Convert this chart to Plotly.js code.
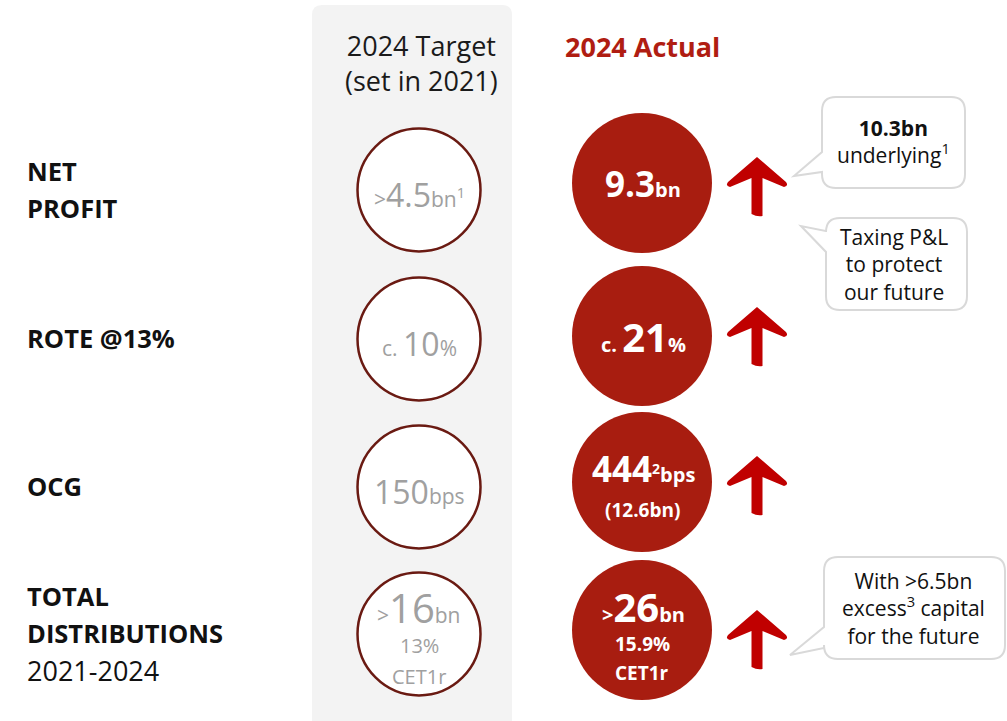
<!DOCTYPE html>
<html><head><meta charset="utf-8">
<script src="https://cdn.plot.ly/plotly-3.0.1.min.js"></script>
<style>body{margin:0;background:#fff}#chart{width:1007px;height:721px}</style>
</head><body><div id="chart"></div>
<script>
// ---- data ----
const metricTitle = [["NET", "PROFIT"], ["ROTE @13%"], ["OCG"], ["TOTAL", "DISTRIBUTIONS"]];
const metricSub = ["", "", "", "2021-2024"];
const columnHeads = ["2024 Target<br>(set in 2021)", "2024 Actual"];
const targetPrefix = [">", "c. ", "", ">"];
const targetValue = ["4.5", "10", "150", "16"];
const targetUnit = ["bn", "%", "bps", "bn"];
const targetNote = ["1", "", "", ""];
const targetExtra = [[], [], [], ["13%", "CET1r"]];
const actualPrefix = ["", "c. ", "", ">"];
const actualValue = ["9.3", "21", "444", "26"];
const actualUnit = ["bn", "%", "bps", "bn"];
const actualNote = ["", "", "2", ""];
const actualExtra = [[], [], ["(12.6bn)"], ["15.9%", "CET1r"]];
const calloutLines = [["<b>10.3bn</b>", "underlying<sup>1</sup>"], ["Taxing P&L", "to protect", "our future"], ["With >6.5bn", "excess<sup>3</sup> capital", "for the future"]];

// ---- layout constants ----
const FONT = "Open Sans, Noto Sans, sans-serif";
const RED = "#a81d10", ARROW = "#c00000", GREY = "#a0a0a0";
const rowY = [190, 339, 487, 634];
const actY = [183, 336, 482, 630];
const tX = 419, aX = 642;

const shapes = [];
const ann = [];

// grey target column with rounded top
(function(){
  const x0=312,x1=512,y0=5,y1=721,r=10;
  shapes.push({type:"path",layer:"below",line:{width:0},fillcolor:"#f3f3f3",
    path:`M${x0},${y1} V${y0+r} Q${x0},${y0} ${x0+r},${y0} H${x1-r} Q${x1},${y0} ${x1},${y0+r} V${y1} Z`,xref:"x",yref:"y"});
})();

// headers
ann.push({x:tX+2,y:63,text:columnHeads[0],font:{family:FONT,size:27,color:"#1a1a1a"}});
ann.push({x:aX,y:46,text:"<b>"+columnHeads[1]+"</b>",font:{family:FONT,size:27,color:"#b01d12"}});

// metric labels
metricTitle.forEach((lines,i)=>{
  const n = lines.length + (metricSub[i]?1:0);
  const lh = 37;
  const start = rowY[i] - 1 - (n-1)*lh/2;
  lines.forEach((t,j)=>{
    ann.push({x:25,y:start+j*lh,xanchor:"left",text:"<b>"+t+"</b>",font:{family:FONT,size:25.5,color:"#111"}});
  });
  if(metricSub[i]) ann.push({x:25,y:start+lines.length*lh,xanchor:"left",text:metricSub[i],font:{family:FONT,size:27,color:"#111"}});
});

function bigText(prefix,val,unit,note,big,small,bold){
  let s = "";
  if(prefix) s += `<span style="font-size:${small}px">${prefix}</span>`;
  s += `<span style="font-size:${big}px">${val}</span>`;
  if(note && unit==="bps") s += `<sup>${note}</sup>`;
  s += `<span style="font-size:${small}px">${unit}</span>`;
  if(note && unit!=="bps") s += `<sup>${note}</sup>`;
  return bold? "<b>"+s+"</b>" : s;
}

// target texts
targetValue.forEach((v,i)=>{
  const ex = targetExtra[i];
  const big = ex.length? 40 : 32;
  const y0 = ex.length ? rowY[i]-27 : rowY[i]+4;
  ann.push({x:tX,y:y0,text:bigText(targetPrefix[i],v,targetUnit[i],targetNote[i],big,21,false),font:{family:FONT,size:21,color:GREY}});
  ex.forEach((t,j)=>ann.push({x:tX,y:rowY[i]+11+j*31,text:t,font:{family:FONT,size:20,color:GREY}}));
});
// actual texts
actualValue.forEach((v,i)=>{
  const ex = actualExtra[i];
  const big = i===1||i===3 ? 40 : 35;
  let y0 = actY[i];
  if(ex.length===1) y0 = actY[i]-14;
  if(ex.length===2) y0 = actY[i]-24;
  ann.push({x:aX+1,y:y0,text:bigText(actualPrefix[i],v,actualUnit[i],actualNote[i],big,20,true),font:{family:FONT,size:20,color:"#fff"}});
  ex.forEach((t,j)=>ann.push({x:aX,y:(ex.length===1?actY[i]+28:actY[i]+14+j*29),text:"<b>"+t+"</b>",font:{family:FONT,size:19,color:"#fff"}}));
});

// arrows
const arrowX = 757;
const arrowY = [187, 337, 486, 640];
arrowY.forEach(cy=>{
  const cx=arrowX;
  const p = (dx,dy)=>`${cx+dx},${cy+dy}`;
  shapes.push({type:"path",xref:"x",yref:"y",fillcolor:ARROW,line:{width:0},
    path:`M${p(0,-30)} L${p(29,-5)} Q${p(32,-1)} ${p(27,0)} L${p(5.5,-9)} L${p(5.5,29)} Q${p(0,30)} ${p(-5.5,27)} L${p(-5.5,-9)} L${p(-27,0)} Q${p(-32,-1)} ${p(-29,-5)} Z`});
});

// callouts
const callBox = [
  {x0:822,x1:965,y0:97,y1:188,ta:152,tb:172,tx:794,ty:176,dx:0,dy:-1},
  {x0:826,x1:967,y0:218,y1:310,ta:231,tb:252,tx:801,ty:226,dx:-3,dy:0},
  {x0:824,x1:1005,y0:557,y1:659,ta:627,tb:648,tx:790,ty:655,dx:-1,dy:0}
];
callBox.forEach((b,k)=>{
  const r=14;
  shapes.push({type:"path",xref:"x",yref:"y",fillcolor:"#fff",line:{color:"#d9d9d9",width:2},
    path:`M${b.x0+r},${b.y0} H${b.x1-r} Q${b.x1},${b.y0} ${b.x1},${b.y0+r} V${b.y1-r} Q${b.x1},${b.y1} ${b.x1-r},${b.y1} H${b.x0+r} Q${b.x0},${b.y1} ${b.x0},${b.y1-r} V${b.tb} L${b.tx},${b.ty} L${b.x0},${b.ta} V${b.y0+r} Q${b.x0},${b.y0} ${b.x0+r},${b.y0} Z`});
  const cx=(b.x0+b.x1)/2+b.dx, cy=(b.y0+b.y1)/2+b.dy;
  ann.push({x:cx,y:cy,text:calloutLines[k].join("<br>"),font:{family:FONT,size:21,color:"#111"}});
});

ann.forEach(a=>{a.xref="x";a.yref="y";a.showarrow=false;if(!a.xanchor)a.xanchor="center";a.yanchor="middle";});

const traces = [
  {type:"scatter",mode:"markers",x:targetValue.map(()=>tX),y:rowY,hoverinfo:"skip",
   marker:{size:123,color:"#fff",line:{color:"#6a1a12",width:2.5}}},
  {type:"scatter",mode:"markers",x:actualValue.map(()=>aX),y:actY,hoverinfo:"skip",
   marker:{size:140,color:RED,line:{width:0}}}
];

Plotly.newPlot("chart",traces,{
  width:1007,height:721,margin:{l:0,r:0,t:0,b:0},
  paper_bgcolor:"#fff",plot_bgcolor:"#fff",showlegend:false,
  xaxis:{range:[0,1007],visible:false,fixedrange:true},
  yaxis:{range:[721,0],visible:false,fixedrange:true},
  shapes:shapes,annotations:ann
},{staticPlot:true});
</script></body></html>
